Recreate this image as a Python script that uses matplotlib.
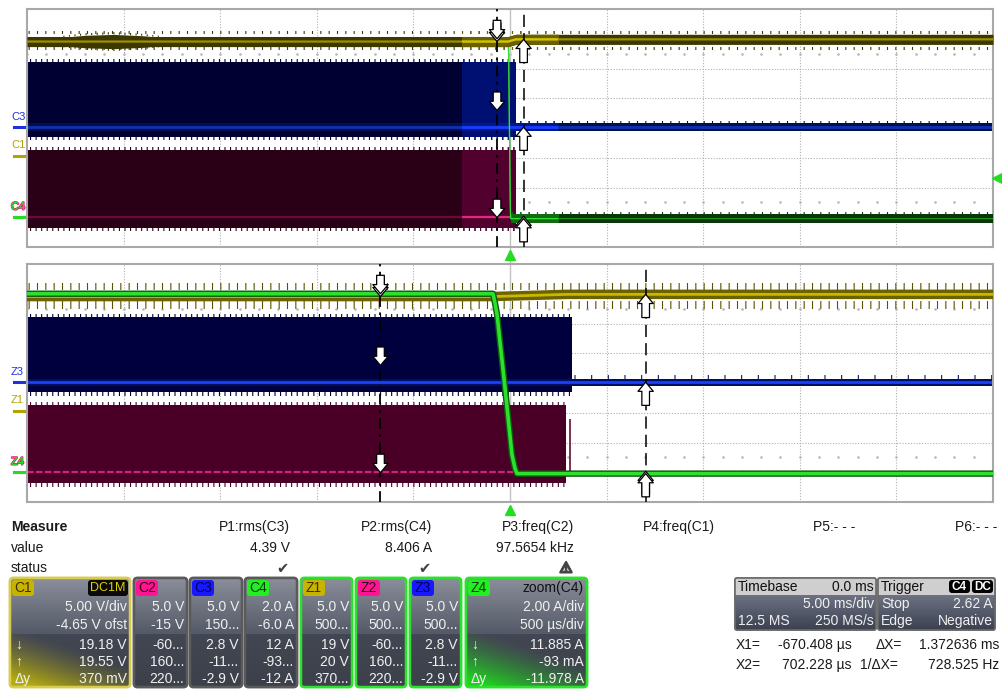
import numpy as np
import matplotlib
matplotlib.use("Agg")
import matplotlib.pyplot as plt
import matplotlib.patheffects as pe
from matplotlib.patches import FancyBboxPatch, Rectangle
from matplotlib.transforms import blended_transform_factory as blend
from matplotlib.colors import to_rgb

plt.rcParams['font.family'] = ['Liberation Sans', 'DejaVu Sans']
plt.rcParams['hatch.linewidth'] = 0.8

W, H = 1003, 690

# ---------------- data ----------------
channels = ['C1', 'C2', 'C3', 'C4']
per_div = [5.0, 5.0, 5.0, 2.0]
offsets = [-4.65, -15.0, 0.15, -6.0]

main_range_ms = (-25.0, 25.0)      # 5.00 ms/div
zoom_range_ms = (-2.5, 2.5)        # 500 us/div
cursor_ms = (-0.670408, 0.702228)
trigger_level_A = 2.62

# C1: supply voltage
c1_t_ms = [-25.0, -0.09, 0.30, 25.0]
c1_V = [19.18, 19.18, 19.55, 19.55]
c1_ripple_V = 0.85
c1_burst_t_ms = [-23.3, -22.0, -20.5, -19.0, -18.0]
c1_burst_V = [0.9, 1.4, 1.6, 1.3, 0.9]

# C2 / C3: switching signals (envelope while switching)
c2_band_V = (-1.8, 11.3)
c2_stop_ms = 0.29
c2_last_pulse = (0.31, 9.0)
c3_band_V = (-1.7, 11.0)
c3_stop_ms = 0.32

# C4: current
c4_t_ms = [-25.0, -0.088, -0.078, -0.067, -0.026, 0.010, 0.025, 0.036, 25.0]
c4_A = [12.0, 12.0, 11.4, 10.6, 5.7, 1.2, 0.3, -0.093, -0.093]

# cursor readings (C1..C4)
x1_read = [19.18, -0.060, 2.8, 12.0]
x2_read = [19.55, 0.160, -0.011, -0.093]

# measurement table
meas_names = ['P1:rms(C3)', 'P2:rms(C4)', 'P3:freq(C2)', 'P4:freq(C1)', 'P5:- - -', 'P6:- - -']
meas_values = ['4.39 V', '8.406 A', '97.5654 kHz', '', '', '']
meas_status = ['\u2714', '\u2714', '\u26a0', '', '', '']

box_labels = ['C1', 'C2', 'C3', 'C4', 'Z1', 'Z2', 'Z3', 'Z4']
box_rows = [
    ['5.00 V/div', '-4.65 V ofst', '19.18 V', '19.55 V', '370 mV'],
    ['5.0 V', '-15 V', '-60...', '160...', '220...'],
    ['5.0 V', '150...', '2.8 V', '-11...', '-2.9 V'],
    ['2.0 A', '-6.0 A', '12 A', '-93...', '-12 A'],
    ['5.0 V', '500...', '19 V', '20 V', '370...'],
    ['5.0 V', '500...', '-60...', '160...', '220...'],
    ['5.0 V', '500...', '2.8 V', '-11...', '-2.9 V'],
    ['2.00 A/div', '500 \u00b5s/div', '11.885 A', '-93 mA', '-11.978 A'],
]
timebase_rows = [('Timebase', '0.0 ms'), ('', '5.00 ms/div'), ('12.5 MS', '250 MS/s')]
trigger_rows = [('Trigger', ''), ('Stop', '2.62 A'), ('Edge', 'Negative')]
xcursor_text = [('X1=', '-670.408 \u00b5s', '\u0394X=', '1.372636 ms'),
                ('X2=', '702.228 \u00b5s', '1/\u0394X=', '728.525 Hz')]

# ---------------- helpers ----------------
def div(ch, v):
    i = channels.index(ch)
    return (np.asarray(v, float) + offsets[i]) / per_div[i]

fig = plt.figure(figsize=(W / 100, H / 100), dpi=100)
fig.patch.set_facecolor('white')
ui = fig.add_axes([0, 0, 1, 1])
ui.axis('off')
ui.set_zorder(0)

def px_axes(x0, y0, x1, y1):
    return fig.add_axes([x0 / W, 1 - y1 / H, (x1 - x0) / W, (y1 - y0) / H])

ax_top = px_axes(27, 9, 993, 247)
ax_bot = px_axes(27, 264, 993, 502)

def setup_panel(ax, tr):
    ax.set_zorder(2)
    ax.set_xlim(*tr)
    ax.set_ylim(-4, 4)
    step = (tr[1] - tr[0]) / 10
    for k in range(1, 10):
        ax.axvline(tr[0] + k * step, color='#b0b0b0', lw=0.8, ls=(0, (1, 1.5)), zorder=0.5)
    for k in range(-3, 4):
        ax.axhline(k, color='#b0b0b0', lw=0.8, ls=(0, (1, 1.5)), zorder=0.5)
    xs = np.arange(tr[0], tr[1], step / 5)
    for yy in (-2.5, 2.5):
        ax.plot(xs, np.full_like(xs, yy), ls='none', marker='s', ms=0.8, color='#b8b8b8', zorder=0.5)
    ax.set_xticks([]); ax.set_yticks([])
    for s in ax.spines.values():
        s.set_color('#a8a8a8'); s.set_linewidth(1.5)
    ax.axvline(0, color='#c4c4c4', lw=1.0, zorder=0.6)

setup_panel(ax_top, main_range_ms)
setup_panel(ax_bot, zoom_range_ms)

def fringe(ax, t0, t1, y, h, color, hatch, z):
    y2 = y + h
    return ax.fill_between([t0, t1], min(y, y2), max(y, y2), facecolor='none',
                           edgecolor=color, hatch=hatch, lw=0, zorder=z)

def draw_top(ax, tr, pal):
    arts = []
    t0, t1 = tr
    # C2 (maroon)
    lo, hi = div('C2', c2_band_V)
    arts.append(ax.fill_between([t0, c2_stop_ms], lo, hi, color=pal['c2b'], lw=0, zorder=2))
    arts.append(fringe(ax, t0, c2_stop_ms, hi, 0.1, pal['c2b'], '|||', 2))
    arts.append(fringe(ax, t0, c2_stop_ms, lo, -0.1, pal['c2b'], '|||', 2))
    arts += ax.plot([t0, t1], [div('C2', 0)] * 2, color=pal['c2l'], lw=1.6, zorder=2.1)
    # C3 (blue)
    lo, hi = div('C3', c3_band_V)
    arts.append(ax.fill_between([t0, c3_stop_ms], lo, hi, color=pal['c3b'], lw=0, zorder=2.2))
    arts.append(fringe(ax, t0, c3_stop_ms, hi, 0.1, pal['c3b'], '|||', 2.2))
    arts.append(fringe(ax, t0, c3_stop_ms, lo, -0.1, pal['c3b'], '|||', 2.2))
    z0 = div('C3', 0)
    arts.append(ax.fill_between([t0, t1], z0 - 0.13, z0 + 0.13, color=pal['c3n'], lw=0, zorder=2.3))
    arts.append(fringe(ax, c3_stop_ms, t1, z0 + 0.13, 0.07, pal['c3n'], '||', 2.3))
    arts += ax.plot([t0, t1], [z0] * 2, color=pal['c3l'], lw=2.0, zorder=2.4)
    # C4 (green)
    g = div('C4', c4_A)
    arts.append(ax.fill_between([c4_t_ms[-2], t1], g[-1] - 0.15, g[-1] + 0.15, color=pal['c4b'], lw=0, zorder=3))
    arts.append(fringe(ax, c4_t_ms[-2], t1, g[-1] + 0.15, 0.08, pal['c4b'], '||', 3))
    arts += ax.plot(c4_t_ms, g, color=pal['c4l'], lw=pal['c4w'], zorder=3.1)
    # C1 (yellow)
    y = div('C1', c1_V)
    r = c1_ripple_V / per_div[0]
    arts.append(ax.fill_between(c1_t_ms, y - r, y + r, color=pal['c1b'], lw=0, zorder=4))
    bt = np.array(c1_burst_t_ms)
    bv = np.array(c1_burst_V) / per_div[0]
    yb = div('C1', c1_V[0])
    arts.append(ax.fill_between(bt, yb - 0.75 * bv, yb + 0.75 * bv, color=pal['c1b'], lw=0, zorder=4))
    arts.append(ax.fill_between(bt, yb + 0.75 * bv, yb + bv, facecolor='none', edgecolor=pal['c1b'],
                                hatch='|||', lw=0, zorder=4))
    arts.append(ax.fill_between(bt, yb - bv, yb - 0.75 * bv, facecolor='none', edgecolor=pal['c1b'],
                                hatch='|||', lw=0, zorder=4))
    arts.append(fringe(ax, t0, t1, float(y[-1] + r), 0.1, pal['c1b'], '||', 4))
    arts.append(fringe(ax, t0, t1, float(y[0] - r), -0.1, pal['c1b'], '||', 4))
    arts += ax.plot(c1_t_ms, y, color=pal['c1l'], lw=1.6, zorder=4.1)
    return arts

dim = dict(c2b='#290015', c2l='#6a0a3a', c3b='#000033', c3n='#00104c', c3l='#1030b0',
           c4b='#0a360a', c4l='#1c901c', c4w=0.9, c1b='#3c3800', c1l='#a09000')
bright = dict(c2b='#52002e', c2l='#e0287f', c3b='#000f72', c3n='#001a8a', c3l='#1a3cff',
              c4b='#136a13', c4l='#30e030', c4w=0.9, c1b='#6a6000', c1l='#d4c400')

draw_top(ax_top, main_range_ms, dim)
win_arts = draw_top(ax_top, main_range_ms, bright)
clip = Rectangle((zoom_range_ms[0], -5), zoom_range_ms[1] - zoom_range_ms[0], 10, transform=ax_top.transData)
for a in win_arts:
    a.set_clip_path(clip)

# ---- bottom (zoom) panel ----
def draw_zoom(ax, tr):
    t0, t1 = tr
    # Z2 maroon
    lo, hi = div('C2', c2_band_V)
    ax.fill_between([t0, c2_stop_ms], lo, hi, color='#4a0026', lw=0, zorder=2)
    fringe(ax, t0, c2_stop_ms, hi, 0.1, '#4a0026', '|||', 2)
    fringe(ax, t0, c2_stop_ms, lo, -0.12, '#4a0026', '|||', 2)
    ax.vlines(c2_last_pulse[0], div('C2', 0), div('C2', c2_last_pulse[1]), color='#6a0a38', lw=1.2, zorder=2)
    ax.plot([t0, t1], [div('C2', 0)] * 2, color='#d0207a', lw=1.6, ls=(0, (3, 1)), zorder=2.1)
    # Z3 blue
    lo, hi = div('C3', c3_band_V)
    ax.fill_between([t0, c3_stop_ms], lo, hi, color='#00003e', lw=0, zorder=2.2)
    fringe(ax, t0, c3_stop_ms, hi, 0.1, '#00003e', '|||', 2.2)
    fringe(ax, t0, c3_stop_ms, lo, -0.14, '#00003e', '|||', 2.2)
    z0 = div('C3', 0)
    ax.fill_between([t0, t1], z0 - 0.12, z0 + 0.12, color='#001060', lw=0, zorder=2.3)
    fringe(ax, c3_stop_ms, t1, z0 + 0.12, 0.12, '#0a1a70', '|', 2.3)
    ax.plot([t0, t1], [z0] * 2, color='#1a40ff', lw=2.0, zorder=2.4)
    # Z1 yellow
    y = div('C1', c1_V)
    r = 0.16
    ax.fill_between(c1_t_ms, y - r, y + r, color='#6c6200', lw=0, zorder=3)
    fringe(ax, t0, t1, float(y[-1] + r), 0.22, '#5a5200', '||', 3)
    fringe(ax, t0, t1, float(y[0] - r), -0.25, '#5a5200', '||', 3)
    ax.plot(c1_t_ms, y, color='#c8b800', lw=2.0, zorder=3.1)
    # Z4 green
    g = div('C4', c4_A)
    ax.plot(c4_t_ms, g, color='#0c5c0c', lw=4.6, zorder=4, solid_capstyle='butt')
    ax.plot(c4_t_ms, g, color='#2ee02e', lw=2.6, zorder=4.1)

draw_zoom(ax_bot, zoom_range_ms)

# ---- cursors ----
def cursors(ax):
    ax.axvline(cursor_ms[0], color='black', lw=1.3, ls=(0, (6, 3, 1.5, 3)), zorder=5)
    ax.axvline(cursor_ms[1], color='black', lw=1.1, ls=(0, (8, 4)), zorder=5)
    style = 'simple,head_length=0.6,head_width=1.0,tail_width=0.5'
    for ch, v1, v2 in zip(channels, x1_read, x2_read):
        l1 = float(div(ch, v1)); l2 = float(div(ch, v2))
        ax.annotate('', xy=(cursor_ms[0], l1), xytext=(cursor_ms[0], l1 + 0.62),
                    arrowprops=dict(arrowstyle=style, fc='white', ec='black', lw=0.9,
                                    shrinkA=0, shrinkB=0, mutation_scale=11), zorder=6)
        ax.annotate('', xy=(cursor_ms[1], l2), xytext=(cursor_ms[1], l2 - 0.78),
                    arrowprops=dict(arrowstyle=style, fc='white', ec='black', lw=0.9,
                                    shrinkA=0, shrinkB=0, mutation_scale=11), zorder=6)

cursors(ax_top)
cursors(ax_bot)

# trigger markers
for ax in (ax_top, ax_bot):
    ax.plot([0], [-0.034], transform=blend(ax.transData, ax.transAxes), marker='^', ms=7,
            color='#22dd22', clip_on=False, zorder=7)
ax_top.axvline(0, ymin=-0.07, ymax=0, color='#c4c4c4', lw=1.0, clip_on=False)
ax_top.plot([1.004], [float(div('C4', trigger_level_A))], transform=blend(ax_top.transAxes, ax_top.transData),
            marker='<', ms=7, color='#22dd22', clip_on=False, zorder=7)

# channel ground markers at left
def ground_marks(ax, names):
    tr = blend(ui.transData, ax.transData)
    spec = [('C3', '#2030e0', names[2], None), ('C1', '#b0a400', names[0], None),
            ('C2', '#e0207a', None, None), ('C4', '#22dd22', names[3], '#e0207a')]
    for ch, col, lab, stroke in spec:
        lv = float(div(ch, 0))
        ui.plot([14, 26], [lv, lv], transform=tr, color=col, lw=2.2, clip_on=False)
        if lab:
            t = ui.annotate(lab, xy=(11, lv), xycoords=tr, xytext=(0, 4), textcoords='offset points',
                            color=col, fontsize=8, ha='left', va='bottom')
            if stroke:
                t.set_path_effects([pe.withStroke(linewidth=1.2, foreground=stroke), pe.Normal()])

ground_marks(ax_top, ['C1', 'C2', 'C3', 'C4'])
ground_marks(ax_bot, ['Z1', 'Z2', 'Z3', 'Z4'])

# ---------------- measure table ----------------
TXT = '#1a1a1a'
ui.text(11, 527, 'Measure', fontsize=10, fontweight='bold', color=TXT, va='center')
ui.text(11, 548, 'value', fontsize=10, color=TXT, va='center')
ui.text(11, 568, 'status', fontsize=10, color=TXT, va='center')
col_right = [290, 432, 574, 715, 855, 997]
for xr, n, v, s in zip(col_right, meas_names, meas_values, meas_status):
    ui.text(xr, 527, n, fontsize=10, color=TXT, ha='right', va='center')
    ui.text(xr, 548, v, fontsize=10, color=TXT, ha='right', va='center')
    if s:
        t = ui.text(xr - 8, 568, s, fontsize=10.5, color='#404040', ha='center', va='center',
                    family='DejaVu Sans', fontweight='bold')
        if s == '\u26a0':
            t.set_path_effects([pe.withStroke(linewidth=1.5, foreground='#505050'), pe.Normal()])

# ---------------- channel boxes ----------------
def rbox(x0, y0, x1, y1, fc, ec, lw, r=3, z=1):
    p = FancyBboxPatch((x0, y0), x1 - x0, y1 - y0, boxstyle=f'round,pad=0,rounding_size={r}',
                       fc=fc, ec=ec, lw=lw, zorder=z)
    ui.add_patch(p)
    return p

def grad(x0, x1, y0, y1, ctop, cbot, clip_p, z, glow=None):
    n = 48
    a = np.array(to_rgb(ctop)); b = np.array(to_rgb(cbot))
    v = np.linspace(0, 1, n)[:, None, None]
    u = np.linspace(0, 1, n)[None, :, None]
    img = a * (1 - v) + b * v + 0 * u
    if glow is not None:
        gc = np.array(to_rgb(glow))
        w = np.clip(0.15 + 1.0 * v - 0.75 * u, 0, 1) ** 1.3
        img = img * (1 - w) + gc * w
    im = ui.imshow(img, extent=[x0, x1, y1, y0], aspect='auto', interpolation='bilinear', zorder=z)
    im.set_clip_path(clip_p)

box_x = [(10, 130), (134, 187), (190, 242), (245, 297), (301, 352), (356, 406), (410, 461), (466, 587)]
chip_col = {'C1': '#c8b400', 'C2': '#ff1493', 'C3': '#1818ff', 'C4': '#22ee22'}
chip_txt = {'C1': '#3a3200', 'C2': '#3a0018', 'C3': '#000060', 'C4': '#0a3a0a'}
BY0, BSPLIT, BY1 = 578, 634, 687
row_y = [607, 625, 645, 662, 679]
for i, (lab, (x0, x1), rows) in enumerate(zip(box_labels, box_x, box_rows)):
    base = 'C' + lab[1]
    if lab == 'C1':
        ec = '#d8cc50'
    elif lab.startswith('Z'):
        ec = '#2ee02e'
    else:
        ec = '#5a5a5a'
    outer = rbox(x0, BY0, x1, BY1, '#4a4f5c', ec, 1.8, z=1)
    grad(x0, x1, BY0, BSPLIT, '#8a8e9a', '#555a68', outer, 1.1)
    glow = None
    if lab == 'C1':
        glow = '#b4ac10'
    elif lab == 'Z4':
        glow = '#22d022'
    grad(x0, x1, BSPLIT, BY1, '#434753', '#3c404a', outer, 1.1, glow=glow)
    rbox(x0, BY0, x1, BY1, 'none', ec, 1.8, z=1.2)
    cw = 22 if len(lab) == 2 else 26
    rbox(x0 + 2, BY0 + 2, x0 + 2 + cw, BY0 + 18, chip_col[base], 'none', 0, r=3, z=1.3)
    ui.text(x0 + 2 + cw / 2, BY0 + 10, lab, fontsize=10, color=chip_txt[base], ha='center',
            va='center', zorder=1.4)
    if lab == 'C1':
        rbox(x1 - 42, BY0 + 2, x1 - 2, BY0 + 18, '#0a0a0a', 'none', 0, r=3, z=1.3)
        ui.text(x1 - 22, BY0 + 10, 'DC1M', fontsize=9, color='#e0d000', ha='center', va='center', zorder=1.4)
    if lab == 'Z4':
        ui.text(x1 - 3, BY0 + 10, 'zoom(C4)', fontsize=10, color='#101010', ha='right', va='center', zorder=1.4)
    for ry, t in zip(row_y, rows):
        ui.text(x1 - 3, ry, t, fontsize=10, color='#f0f0f0', ha='right', va='center', zorder=1.4)
    if lab in ('C1', 'Z4'):
        for ry, t in zip(row_y[2:], ['\u2193', '\u2191', '\u0394y']):
            ui.text(x0 + 5, ry, t, fontsize=10, color='#f0f0f0', ha='left', va='center', zorder=1.4)

# ---------------- timebase / trigger ----------------
def info_box(x0, x1, rows, chips=None):
    y0, y1 = 578, 630
    outer = rbox(x0, y0, x1, y1, '#4a4f5c', '#7a7a7a', 1.2, r=2, z=1)
    grad(x0, x1, y0 + 17, y1, '#6c7282', '#3c4150', outer, 1.1)
    hdr = Rectangle((x0, y0), x1 - x0, 17, fc='#cfcfcf', ec='none', zorder=1.2)
    ui.add_patch(hdr)
    hdr.set_clip_path(outer)
    rbox(x0, y0, x1, y1, 'none', '#6a6a6a', 1.2, r=2, z=1.3)
    ys = [587, 604, 621]
    for k, (l, r) in enumerate(rows):
        col = '#101010' if k == 0 else '#f0f0f0'
        ui.text(x0 + 3, ys[k], l, fontsize=10, color=col, ha='left', va='center', zorder=1.4)
        if r:
            ui.text(x1 - 2, ys[k], r, fontsize=10, color=col, ha='right', va='center', zorder=1.4)
    if chips:
        xr = x1 - 2
        for c in reversed(chips):
            w = 21
            rbox(xr - w, y0 + 2, xr, y0 + 15, '#000000', 'none', 0, r=3, z=1.4)
            ui.text(xr - w / 2, y0 + 8.5, c, fontsize=8.5, color='white', ha='center', va='center',
                    fontweight='bold', zorder=1.5)
            xr -= w + 2

info_box(735, 876, timebase_rows)
info_box(878, 995, trigger_rows, chips=['C4', 'DC'])

for yy, (l1, v1, l2, v2) in zip([645, 665], xcursor_text):
    ui.text(736, yy, l1, fontsize=10, color=TXT, ha='left', va='center')
    ui.text(852, yy, v1, fontsize=10, color=TXT, ha='right', va='center')
    ui.text(902 if l2.startswith('\u0394') else 898, yy, l2, fontsize=10, color=TXT, ha='right', va='center')
    ui.text(999, yy, v2, fontsize=10, color=TXT, ha='right', va='center')

ui.set_xlim(0, W)
ui.set_ylim(H, 0)
ax_top.set_xlim(*main_range_ms); ax_top.set_ylim(-4, 4)
ax_bot.set_xlim(*zoom_range_ms); ax_bot.set_ylim(-4, 4)

fig.savefig('out.png', dpi=100)
